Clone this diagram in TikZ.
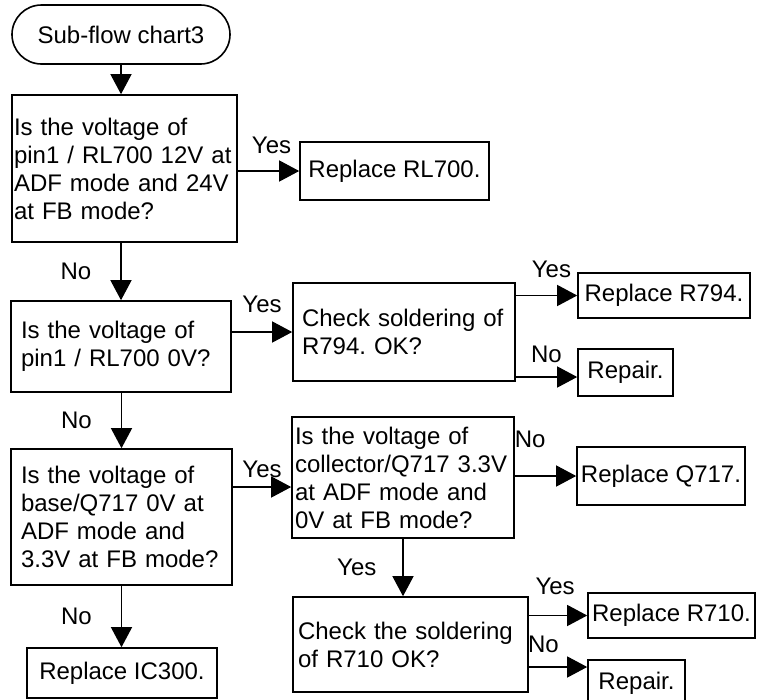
\documentclass[tikz,border=0pt]{standalone}
\usepackage{fontspec}
\setmainfont{Liberation Sans}
\usetikzlibrary{arrows.meta}
\frenchspacing
\begin{document}
\begin{tikzpicture}[
    x=1pt, y=-1pt,
    font=\fontsize{24}{28}\selectfont,
    box/.style={draw, line width=1.6pt, inner sep=0pt, align=center},
    qbox/.style={box, align=left},
    flow/.style={-{Triangle[length=20pt,width=21pt]}, line width=1.3pt},
    lbl/.style={inner sep=1pt}
    ]
    \useasboundingbox (0,0) rectangle (763,699);

    \node[box, rounded corners=29.5pt, minimum width=218pt, minimum height=59pt] (start) at (121,34.5) {Sub-flow chart3};

    \node[qbox, minimum width=225pt, minimum height=147pt, text width=221pt] (q1) at (124.5,168.5)
        {Is the voltage of\\pin1 / RL700 12V at\\ADF mode and 24V\\at FB mode?};
    \node[box, minimum width=189pt, minimum height=58pt] (rRL) at (394.5,171) {Replace RL700.};

    \node[qbox, minimum width=220pt, minimum height=91pt, text width=200pt] (q2) at (121,346.5)
        {Is the voltage of\\pin1 / RL700 0V?};
    \node[qbox, minimum width=222pt, minimum height=98pt, text width=204pt] (chk1) at (404,332)
        {Check soldering of\\R794. OK?};
    \node[box, minimum width=172pt, minimum height=45pt] (rR794) at (664,295.5) {Replace R794.};
    \node[box, minimum width=95pt, minimum height=47pt] (rep1) at (625.5,372.5) {Repair.};

    \node[qbox, minimum width=221pt, minimum height=136pt, text width=201pt] (q3) at (121.5,517)
        {Is the voltage of\\base/Q717 0V at\\ADF mode and\\3.3V at FB mode?};
    \node[qbox, minimum width=222pt, minimum height=121pt, text width=216pt] (q4) at (403,477.5)
        {Is the voltage of\\collector/Q717 3.3V\\at ADF mode and\\0V at FB mode?};
    \node[box, minimum width=168pt, minimum height=58pt] (rQ717) at (661,476) {Replace Q717.};

    \node[qbox, minimum width=235pt, minimum height=95pt, text width=225pt] (chk2) at (410.5,644.5)
        {Check the soldering\\of R710 OK?};
    \node[box, minimum width=167pt, minimum height=45pt] (rR710) at (671.5,615.5) {Replace R710.};
    \node[box, minimum width=97pt, minimum height=47pt] (rep2) at (636.5,683.5) {Repair.};

    \node[box, minimum width=190pt, minimum height=50pt] (rIC) at (122,673) {Replace IC300.};

    % arrow ends that sit off the box centres
    \coordinate (rep1in) at ([yshift=-4.5pt]rep1.west);
    \coordinate (q4in) at ([yshift=-9.5pt]q4.west);
    \coordinate (rep2in) at ([yshift=16.5pt]rep2.west);

    \draw[flow] (start.south) -- (start.south |- q1.north);
    \draw[flow] (q1.east |- rRL.west) -- node[lbl, above=16pt, pos=0.55]{Yes} (rRL.west);
    \draw[flow] (q2.north |- q1.south) -- node[lbl, left=28pt]{No} (q2.north);

    \draw[flow] (q2.east |- chk1.west) -- node[lbl, above=18pt]{Yes} (chk1.west);
    \draw[flow] (chk1.east |- rR794.west) -- node[lbl, above=16pt, pos=0.58]{Yes} (rR794.west);
    \draw[flow] (chk1.east |- rep1in) -- node[lbl, above=13pt]{No} (rep1in);
    \draw[flow] (q3.north |- q2.south) -- node[lbl, left=28pt]{No} (q3.north);

    \draw[flow] (q3.east |- q4in) -- node[lbl, above=8pt]{Yes} (q4in);
    \draw[flow] (q4.east |- rQ717.west) -- node[lbl, above=27pt, pos=0.25]{No} (rQ717.west);
    \draw[flow] (q4.south) -- node[lbl, left=25pt]{Yes} (q4.south |- chk2.north);

    \draw[flow] (chk2.east |- rR710.west) -- node[lbl, above=19pt, pos=0.45]{Yes} (rR710.west);
    \draw[flow] (chk2.east |- rep2in) -- node[lbl, above=13pt, pos=0.25]{No} (rep2in);
    \draw[flow] (q3.south) -- node[lbl, left=28pt]{No} (q3.south |- rIC.north);

\end{tikzpicture}
\end{document}
